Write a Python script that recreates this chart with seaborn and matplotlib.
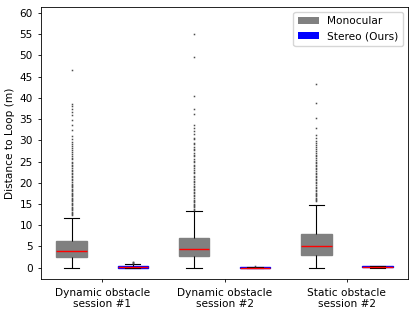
import seaborn as sns
import matplotlib.pyplot as plt
from matplotlib.patches import Patch
import pandas as pd
import numpy as np

sessions = ["Dynamic obstacle\nsession #1", "Dynamic obstacle\nsession #2", "Static obstacle\nsession #2"]
methods = ["Monocular", "Stereo (Ours)"]

# five-number summaries (m)
mono_lo = [0.0, 0.0, 0.0]
mono_q1 = [2.6, 2.7, 3.0]
mono_med = [4.0, 4.4, 5.0]
mono_q3 = [6.4, 7.0, 8.0]
mono_hi = [11.7, 13.3, 14.7]

stereo_lo = [0.0, 0.0, 0.0]
stereo_q1 = [0.0, 0.0, 0.05]
stereo_med = [0.05, 0.02, 0.15]
stereo_q3 = [0.4, 0.1, 0.3]
stereo_hi = [0.95, 0.2, 0.45]

# outliers (estimated from the dots above the whiskers)
mono_out_1 = [12.3, 12.6, 12.9, 13.2, 13.5, 13.8, 14.1, 14.4, 14.7, 15.0, 15.3, 15.6,
              15.9, 16.2, 16.5, 16.8, 17.1, 17.4, 17.7, 18.0, 18.3, 18.6, 18.9, 19.2,
              19.5, 19.8, 20.2, 20.6, 21.0, 21.3, 21.7, 22.0, 22.4, 22.8, 23.1, 23.5,
              23.9, 24.2, 24.6, 25.0, 25.5, 25.9, 26.3, 26.8, 27.2, 27.7, 28.1, 28.6,
              29.2, 29.7, 30.3, 31.1, 32.4, 33.6, 34.8, 35.9, 36.6, 37.3, 38.0, 38.6, 46.6]
mono_out_2 = [13.6, 13.9, 14.2, 14.5, 14.8, 15.1, 15.4, 15.7, 16.0, 16.4, 16.8, 17.1,
              17.5, 17.9, 18.2, 18.6, 19.0, 19.3, 19.8, 20.1, 20.5, 21.0, 21.3, 21.7,
              22.3, 22.6, 23.0, 23.6, 23.9, 24.3, 24.9, 25.2, 25.6, 26.3, 26.6, 27.0,
              27.7, 28.0, 28.4, 29.1, 29.4, 30.2, 30.6, 31.4, 32.1, 32.8, 33.6, 36.2,
              37.3, 40.5, 49.7, 55.1]
mono_out_3 = [15.6, 15.9, 16.2, 16.5, 16.8, 17.1, 17.4, 17.7, 18.0, 18.4, 18.8, 19.1,
              19.5, 19.9, 20.2, 20.6, 21.0, 21.3, 21.7, 22.1, 22.4, 22.8, 23.2, 23.5,
              23.9, 24.3, 24.6, 25.0, 25.4, 25.8, 26.2, 26.6, 27.0, 27.5, 27.9, 28.4,
              28.9, 29.4, 29.9, 30.5, 31.3, 32.9, 35.2, 38.7, 43.3]
stereo_out_1 = [1.05, 1.15, 1.25, 1.35]
stereo_out_2 = [0.45]
stereo_out_3 = []

mono_out = [mono_out_1, mono_out_2, mono_out_3]
stereo_out = [stereo_out_1, stereo_out_2, stereo_out_3]

# rebuild samples whose quartiles land on the summaries above
rows = []
for m, (lo, q1, med, q3, hi, out) in zip(methods, [
        (mono_lo, mono_q1, mono_med, mono_q3, mono_hi, mono_out),
        (stereo_lo, stereo_q1, stereo_med, stereo_q3, stereo_hi, stereo_out)]):
    for i, s in enumerate(sessions):
        vals = ([lo[i]] + [q1[i]] * 150 + [med[i]] * 150 + [q3[i]] * 150
                + [hi[i]] + list(out[i]))
        rows += [(s, m, v) for v in vals]
df = pd.DataFrame(rows, columns=["session", "method", "distance"])

palette = {"Monocular": "gray", "Stereo (Ours)": "blue"}

plt.rcParams["font.size"] = 7.6
fig, ax = plt.subplots(figsize=(4.15, 3.16), dpi=100)
sns.boxplot(data=df, x="session", y="distance", hue="method", palette=palette,
            saturation=1, width=1.0, gap=0.5, ax=ax, legend=False,
            whiskerprops={"color": "black", "linewidth": 0.8},
            capprops={"color": "black", "linewidth": 0.8},
            medianprops={"color": "red", "linewidth": 1.0},
            flierprops={"marker": "s", "markersize": 1.1, "markerfacecolor": "0.3",
                        "markeredgecolor": "none"})

for p in ax.patches:
    p.set_edgecolor(p.get_facecolor())

ax.legend(handles=[Patch(facecolor=palette[m], label=m) for m in methods],
          loc="upper right")
ax.set_ylim(-2.75, 61.5)
ax.set_xlim(-0.5, 2.5)
ax.set_yticks(np.arange(0, 61, 5))
ax.set_xlabel("")
ax.set_ylabel("Distance to Loop (m)", labelpad=3)
ax.tick_params(length=2.5, width=0.6)
for sp in ax.spines.values():
    sp.set_linewidth(0.6)

fig.subplots_adjust(left=0.099, right=0.983, top=0.979, bottom=0.116)
fig.savefig("out.png")
